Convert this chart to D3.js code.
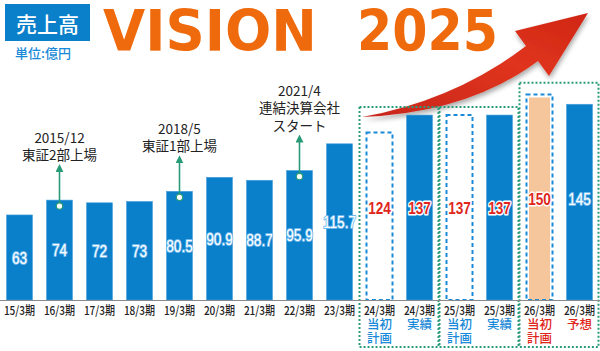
<!DOCTYPE html>
<html><head><meta charset="utf-8">
<script src="https://cdn.jsdelivr.net/npm/d3@7"></script>
<style>
html,body{margin:0;padding:0;background:#fff;}
svg{display:block;}
</style></head>
<body>
<svg id="c" width="600" height="351"></svg>
<script>
// ---- data ----
const periods = ["15/3期","16/3期","17/3期","18/3期","19/3期","20/3期","21/3期","22/3期","23/3期","24/3期","24/3期","25/3期","25/3期","26/3期","26/3期"];
const subLabels = ["","","","","","","","","","当初\n計画","実績","当初\n計画","実績","当初\n計画","予想"];
const values = [63,74,72,73,80.5,90.9,88.7,95.9,115.7,124,137,137,137,150,145];
const kinds = ["actual","actual","actual","actual","actual","actual","actual","actual","actual","plan","actual","plan","actual","target","forecast"];
const events = [
  {idx:1, lines:["2015/12","東証2部上場"]},
  {idx:4, lines:["2018/5","東証1部上場"]},
  {idx:7, lines:["2021/4","連結決算会社","スタート"]}
];
const groups = [{from:9,to:10,top:143},{from:11,to:12,top:143},{from:13,to:14,top:161}];

// ---- style ----
const BLUE = "#0a7fca", LBLUE = "#1a8ad8", RED = "#e0261b", TEAL = "#2a9b78", PEACH = "#f5c59c", ORANGE = "#ef6a0c";
const JP = "'Noto Sans CJK JP','Noto Sans',sans-serif";
const NUM = "'Liberation Sans',Arial,sans-serif";

const svg = d3.select("#c");
const idx = d3.range(values.length);
const x = d3.scaleBand().domain(idx).range([-0.5, 599.5]).paddingInner(0.35).paddingOuter(0.175);
const y = d3.scaleLinear().domain([0,150]).range([300, 97.5]);
const bw = x.bandwidth();

const defs = svg.append("defs");
const grad = defs.append("linearGradient").attr("id","ag").attr("x1","0").attr("y1","1").attr("x2","1").attr("y2","0");
grad.append("stop").attr("offset","0").attr("stop-color","#c8261a");
grad.append("stop").attr("offset","0.6").attr("stop-color","#e0341c");
grad.append("stop").attr("offset","1").attr("stop-color","#cf2616");
const f = defs.append("filter").attr("id","sh").attr("x","-20%").attr("y","-20%").attr("width","140%").attr("height","140%");
f.append("feGaussianBlur").attr("in","SourceAlpha").attr("stdDeviation","2.5");
f.append("feOffset").attr("dx","1").attr("dy","3").attr("result","o");
f.append("feComponentTransfer").append("feFuncA").attr("type","linear").attr("slope","0.35");
const fm = f.append("feMerge"); fm.append("feMergeNode"); fm.append("feMergeNode").attr("in","SourceGraphic");
defs.append("marker").attr("id","ah").attr("viewBox","0 0 10 10").attr("refX","5").attr("refY","5")
  .attr("markerWidth","5").attr("markerHeight","5").attr("orient","auto-start-reverse")
  .append("path").attr("d","M0,0 L10,5 L0,10 z").attr("fill",TEAL);

// ---- title ----
svg.append("rect").attr("x",5).attr("y",4).attr("width",85).attr("height",37).attr("fill",BLUE);
svg.append("text").attr("x",47.5).attr("y",23).attr("text-anchor","middle").attr("dominant-baseline","central")
  .attr("font-family",JP).attr("font-size",21).attr("font-weight",500).attr("fill","#fff").text("売上高");
svg.append("text").attr("x",43).attr("y",52).attr("text-anchor","middle").attr("dominant-baseline","central")
  .attr("font-family",JP).attr("font-size",13).attr("font-weight",500).attr("fill",LBLUE).text("単位:億円");
svg.append("text").attr("x",103).attr("y",51).attr("font-family","'DejaVu Sans',Verdana,sans-serif").attr("font-weight","bold")
  .attr("font-size",57).attr("fill",ORANGE).attr("textLength",214).attr("lengthAdjust","spacingAndGlyphs").text("VISION");
svg.append("text").attr("x",357).attr("y",51).attr("font-family","'DejaVu Sans',Verdana,sans-serif").attr("font-weight","bold")
  .attr("font-size",57).attr("fill",ORANGE).attr("textLength",141).attr("lengthAdjust","spacingAndGlyphs").text("2025");

// ---- red swoosh arrow ----
svg.append("path")
  .attr("d","M362,117 Q455,100 526,46 L515,31 L588,13 L549,76 L538,61 Q468,113 362,117 Z")
  .attr("fill","url(#ag)").attr("filter","url(#sh)");

// ---- group boxes ----
svg.append("g").selectAll("rect").data(groups).join("rect")
  .attr("x", g => x(g.from) - (x.step()-bw)/2)
  .attr("y", g => y(g.top))
  .attr("width", g => (g.to - g.from + 1)*x.step() - 1)
  .attr("height", g => 347 - y(g.top))
  .attr("fill","none").attr("stroke",TEAL).attr("stroke-width",2).attr("stroke-dasharray","2,2");

// ---- bars ----
const bars = svg.append("g");
bars.selectAll("rect.b").data(idx.filter(i => kinds[i] !== "plan")).join("rect").attr("class","b")
  .attr("x", i => kinds[i]==="target" ? x(i)+2.5 : x(i))
  .attr("y", i => y(values[i]))
  .attr("width", i => kinds[i]==="target" ? bw-5 : bw)
  .attr("height", i => y(0) - y(values[i]))
  .attr("fill", i => kinds[i]==="target" ? PEACH : BLUE)
  .attr("stroke", i => kinds[i]==="target" ? "none" : "#4aa2de").attr("stroke-width",0.6);
bars.selectAll("rect.p").data(idx.filter(i => kinds[i] === "plan" || kinds[i] === "target")).join("rect").attr("class","p")
  .attr("x", i => x(i))
  .attr("y", i => y(values[i]) - (kinds[i]==="target" ? 3 : 0))
  .attr("width", bw)
  .attr("height", i => y(0) - y(values[i]) + (kinds[i]==="target" ? 3 : 0))
  .attr("fill","none").attr("stroke",LBLUE).attr("stroke-width",2).attr("stroke-dasharray","4,3");

// ---- axis ----
const ax = svg.append("g").attr("transform","translate(0,300)")
  .call(d3.axisBottom(x).tickSize(0).tickPadding(0).tickFormat(i => periods[i]));
ax.select(".domain").attr("stroke","#8a8a8a").attr("stroke-width",1).attr("d","M0,0.5H600");
ax.selectAll(".tick text").attr("font-family",JP).attr("font-size",12).attr("font-weight",500).attr("fill","#222")
  .attr("y",0).attr("dy",0).attr("dominant-baseline","central")
  .attr("transform","translate(0,10) scale(0.84,1)");

// sub labels
const sub = svg.append("g");
idx.filter(i => subLabels[i]).forEach(i => {
  const ls = subLabels[i].split("\n");
  const col = i >= 13 ? RED : LBLUE;
  ls.forEach((t, k) => {
    sub.append("text").attr("x", x(i)+bw/2).attr("y", 323.5 + k*14).attr("text-anchor","middle")
      .attr("dominant-baseline","central").attr("font-family",JP).attr("font-size",12.5).attr("font-weight",500)
      .attr("fill",col).text(t);
  });
});

// ---- value labels ----
function labelY(i){
  const mid = (y(values[i]) + y(0))/2;
  const g = groups.find(g => i>=g.from && i<=g.to);
  if (!g) return mid;
  return d3.min(d3.range(g.from,g.to+1), j => (y(values[j])+y(0))/2);
}
const redLbl = i => kinds[i]==="plan" || kinds[i]==="target" || (kinds[i]==="actual" && i>=9);
const vl = svg.append("g");
idx.forEach(i => {
  const t = vl.append("text")
    .attr("transform", `translate(${x(i)+bw/2},${labelY(i)}) scale(0.8,1)`)
    .attr("text-anchor","middle").attr("dominant-baseline","central")
    .attr("font-family",NUM).attr("font-size",17).attr("font-weight",400)
    .attr("paint-order","stroke").attr("stroke-linejoin","round")
    .text(values[i]);
  if (redLbl(i)) t.attr("fill",RED).attr("stroke","#fff").attr("stroke-width",3).attr("font-weight",700);
  else t.attr("fill","#fff").attr("stroke","#6ab6ea").attr("stroke-width",2);
});

// ---- event annotations ----
const ev = svg.append("g");
events.forEach(e => {
  const cx = x(e.idx)+bw/2, top = y(values[e.idx]);
  const tip = top - 35;
  ev.append("line").attr("x1",cx).attr("x2",cx).attr("y1",top+6).attr("y2",tip+3)
    .attr("stroke",TEAL).attr("stroke-width",1.6).attr("marker-end","url(#ah)");
  ev.append("circle").attr("cx",cx).attr("cy",top+6).attr("r",3.2).attr("fill","#fff").attr("stroke",TEAL).attr("stroke-width",1.2);
  const n = e.lines.length;
  e.lines.forEach((t,k) => {
    ev.append("text").attr("x",cx).attr("y", tip - 11 - (n-1-k)*17.5)
      .attr("text-anchor","middle").attr("dominant-baseline","central")
      .attr("font-family",JP).attr("font-size",13.5).attr("fill","#222").text(t);
  });
});
</script>
</body></html>
